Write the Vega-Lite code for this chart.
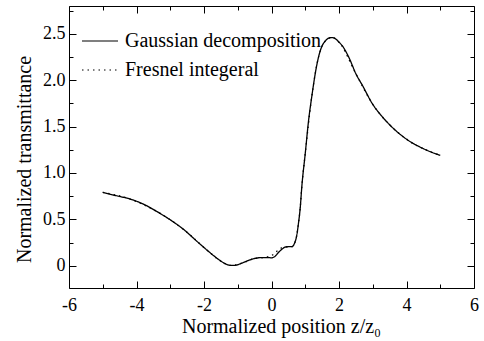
{
  "$schema": "https://vega.github.io/schema/vega-lite/v6.json",
  "width": 405,
  "height": 282,
  "autosize": {"type": "none"},
  "padding": {"left": 69, "top": 6, "right": 10, "bottom": 53},
  "background": "white",
  "config": {
    "view": {"stroke": "black", "strokeWidth": 1},
    "font": "Liberation Serif, Times New Roman, serif",
    "style": {
      "guide-label": {"font": "Liberation Serif, Times New Roman, serif", "fontSize": 18, "fill": "black"},
      "guide-title": {"font": "Liberation Serif, Times New Roman, serif", "fontSize": 20, "fill": "black", "fontWeight": "normal"}
    },
    "axis": {"grid": false, "domain": false, "tickColor": "black", "tickWidth": 1, "labelFont": "Liberation Serif, Times New Roman, serif", "titleFont": "Liberation Serif, Times New Roman, serif", "labelColor": "black", "titleColor": "black", "labelFontSize": 18, "titleFontSize": 20, "titleFontWeight": "normal"},
    "legend": {"labelFont": "Liberation Serif, Times New Roman, serif", "labelFontSize": 20, "labelColor": "black", "labelLimit": 0}
  },
  "data": {"values": [
    {"z": -5.0, "T": 0.79, "s": "Gaussian decomposition"},
    {"z": -4.6, "T": 0.755, "s": "Gaussian decomposition"},
    {"z": -4.2, "T": 0.72, "s": "Gaussian decomposition"},
    {"z": -3.8, "T": 0.665, "s": "Gaussian decomposition"},
    {"z": -3.4, "T": 0.585, "s": "Gaussian decomposition"},
    {"z": -3.0, "T": 0.495, "s": "Gaussian decomposition"},
    {"z": -2.6, "T": 0.39, "s": "Gaussian decomposition"},
    {"z": -2.2, "T": 0.26, "s": "Gaussian decomposition"},
    {"z": -1.9, "T": 0.165, "s": "Gaussian decomposition"},
    {"z": -1.7, "T": 0.105, "s": "Gaussian decomposition"},
    {"z": -1.5, "T": 0.05, "s": "Gaussian decomposition"},
    {"z": -1.35, "T": 0.018, "s": "Gaussian decomposition"},
    {"z": -1.2, "T": 0.003, "s": "Gaussian decomposition"},
    {"z": -1.05, "T": 0.006, "s": "Gaussian decomposition"},
    {"z": -0.9, "T": 0.025, "s": "Gaussian decomposition"},
    {"z": -0.7, "T": 0.055, "s": "Gaussian decomposition"},
    {"z": -0.5, "T": 0.078, "s": "Gaussian decomposition"},
    {"z": -0.3, "T": 0.088, "s": "Gaussian decomposition"},
    {"z": -0.1, "T": 0.088, "s": "Gaussian decomposition"},
    {"z": 0.0, "T": 0.085, "s": "Gaussian decomposition"},
    {"z": 0.1, "T": 0.1, "s": "Gaussian decomposition"},
    {"z": 0.2, "T": 0.14, "s": "Gaussian decomposition"},
    {"z": 0.3, "T": 0.175, "s": "Gaussian decomposition"},
    {"z": 0.4, "T": 0.2, "s": "Gaussian decomposition"},
    {"z": 0.5, "T": 0.205, "s": "Gaussian decomposition"},
    {"z": 0.6, "T": 0.205, "s": "Gaussian decomposition"},
    {"z": 0.68, "T": 0.24, "s": "Gaussian decomposition"},
    {"z": 0.75, "T": 0.33, "s": "Gaussian decomposition"},
    {"z": 0.8, "T": 0.46, "s": "Gaussian decomposition"},
    {"z": 0.85, "T": 0.62, "s": "Gaussian decomposition"},
    {"z": 0.9, "T": 0.86, "s": "Gaussian decomposition"},
    {"z": 1.0, "T": 1.21, "s": "Gaussian decomposition"},
    {"z": 1.1, "T": 1.57, "s": "Gaussian decomposition"},
    {"z": 1.2, "T": 1.84, "s": "Gaussian decomposition"},
    {"z": 1.3, "T": 2.08, "s": "Gaussian decomposition"},
    {"z": 1.4, "T": 2.26, "s": "Gaussian decomposition"},
    {"z": 1.5, "T": 2.37, "s": "Gaussian decomposition"},
    {"z": 1.6, "T": 2.425, "s": "Gaussian decomposition"},
    {"z": 1.7, "T": 2.455, "s": "Gaussian decomposition"},
    {"z": 1.8, "T": 2.46, "s": "Gaussian decomposition"},
    {"z": 1.9, "T": 2.445, "s": "Gaussian decomposition"},
    {"z": 2.0, "T": 2.41, "s": "Gaussian decomposition"},
    {"z": 2.1, "T": 2.37, "s": "Gaussian decomposition"},
    {"z": 2.3, "T": 2.24, "s": "Gaussian decomposition"},
    {"z": 2.5, "T": 2.07, "s": "Gaussian decomposition"},
    {"z": 2.7, "T": 1.94, "s": "Gaussian decomposition"},
    {"z": 3.0, "T": 1.74, "s": "Gaussian decomposition"},
    {"z": 3.25, "T": 1.62, "s": "Gaussian decomposition"},
    {"z": 3.5, "T": 1.52, "s": "Gaussian decomposition"},
    {"z": 3.8, "T": 1.42, "s": "Gaussian decomposition"},
    {"z": 4.1, "T": 1.34, "s": "Gaussian decomposition"},
    {"z": 4.4, "T": 1.28, "s": "Gaussian decomposition"},
    {"z": 4.7, "T": 1.23, "s": "Gaussian decomposition"},
    {"z": 5.0, "T": 1.19, "s": "Gaussian decomposition"},
    {"z": -5.0, "T": 0.79, "s": "Fresnel integeral"},
    {"z": -4.2, "T": 0.72, "s": "Fresnel integeral"},
    {"z": -3.4, "T": 0.585, "s": "Fresnel integeral"},
    {"z": -2.6, "T": 0.39, "s": "Fresnel integeral"},
    {"z": -1.9, "T": 0.165, "s": "Fresnel integeral"},
    {"z": -1.5, "T": 0.05, "s": "Fresnel integeral"},
    {"z": -1.2, "T": 0.003, "s": "Fresnel integeral"},
    {"z": -0.9, "T": 0.025, "s": "Fresnel integeral"},
    {"z": -0.5, "T": 0.078, "s": "Fresnel integeral"},
    {"z": -0.2, "T": 0.09, "s": "Fresnel integeral"},
    {"z": 0.0, "T": 0.11, "s": "Fresnel integeral"},
    {"z": 0.1, "T": 0.135, "s": "Fresnel integeral"},
    {"z": 0.2, "T": 0.172, "s": "Fresnel integeral"},
    {"z": 0.3, "T": 0.192, "s": "Fresnel integeral"},
    {"z": 0.4, "T": 0.202, "s": "Fresnel integeral"},
    {"z": 0.5, "T": 0.205, "s": "Fresnel integeral"},
    {"z": 0.6, "T": 0.205, "s": "Fresnel integeral"},
    {"z": 0.68, "T": 0.24, "s": "Fresnel integeral"},
    {"z": 0.75, "T": 0.33, "s": "Fresnel integeral"},
    {"z": 0.8, "T": 0.46, "s": "Fresnel integeral"},
    {"z": 0.85, "T": 0.62, "s": "Fresnel integeral"},
    {"z": 0.9, "T": 0.86, "s": "Fresnel integeral"},
    {"z": 1.0, "T": 1.21, "s": "Fresnel integeral"},
    {"z": 1.2, "T": 1.84, "s": "Fresnel integeral"},
    {"z": 1.4, "T": 2.26, "s": "Fresnel integeral"},
    {"z": 1.6, "T": 2.425, "s": "Fresnel integeral"},
    {"z": 1.8, "T": 2.46, "s": "Fresnel integeral"},
    {"z": 2.0, "T": 2.41, "s": "Fresnel integeral"},
    {"z": 2.5, "T": 2.07, "s": "Fresnel integeral"},
    {"z": 3.0, "T": 1.74, "s": "Fresnel integeral"},
    {"z": 3.5, "T": 1.52, "s": "Fresnel integeral"},
    {"z": 4.1, "T": 1.34, "s": "Fresnel integeral"},
    {"z": 4.7, "T": 1.23, "s": "Fresnel integeral"},
    {"z": 5.0, "T": 1.19, "s": "Fresnel integeral"}
  ]},
  "resolve": {"axis": {"x": "independent", "y": "independent"}},
  "layer": [
    {
      "mark": {"type": "line", "color": "black", "strokeWidth": 1.3, "interpolate": "monotone"},
      "encoding": {
        "x": {"field": "z", "type": "quantitative", "scale": {"domain": [-6, 6], "nice": false, "zero": false},
          "axis": {"orient": "bottom", "values": [-6, -4, -2, 0, 2, 4, 6], "tickSize": -7, "labelPadding": 15, "labelExpr": "datum.value + ''", "labelFlush": false, "labelFont": "Liberation Serif, Times New Roman, serif", "labelFontSize": 18, "titleFont": "Liberation Serif, Times New Roman, serif", "titleFontSize": 20, "title": "Normalized position z/z₀", "titleX": 212, "titleY": 44, "titleAlign": "center", "titleBaseline": "alphabetic"}},
        "y": {"field": "T", "type": "quantitative", "scale": {"domain": [-0.24, 2.8], "nice": false, "zero": false},
          "axis": {"orient": "left", "values": [0, 0.5, 1, 1.5, 2, 2.5], "tickSize": -7, "labelPadding": 11, "labelExpr": "datum.value == 0 ? '0' : format(datum.value, '.1f')", "labelFlush": false, "labelFont": "Liberation Serif, Times New Roman, serif", "labelFontSize": 18, "titleFont": "Liberation Serif, Times New Roman, serif", "titleFontSize": 20, "title": "Normalized transmittance", "titleAngle": -90, "titleX": -39, "titleY": 153, "titleAlign": "center", "titleBaseline": "alphabetic"}},
        "strokeDash": {"field": "s", "type": "nominal",
          "scale": {"domain": ["Gaussian decomposition", "Fresnel integeral"], "range": [[1, 0], [1.5, 4]]},
          "legend": {"orient": "none", "legendX": 12, "legendY": 16, "title": null, "symbolType": "stroke", "symbolSize": 1296, "symbolStrokeColor": "black", "symbolStrokeWidth": 1.2, "labelOffset": 6, "rowPadding": -7, "labelLimit": 0}}
      }
    },
    {
      "mark": {"type": "line", "opacity": 0},
      "encoding": {
        "x": {"field": "z", "type": "quantitative", "axis": {"orient": "bottom", "values": [-5, -3, -1, 1, 3, 5], "tickSize": -4, "labels": false, "title": null}},
        "y": {"field": "T", "type": "quantitative", "axis": {"orient": "left", "values": [0.25, 0.75, 1.25, 1.75, 2.25, 2.75], "tickSize": -4, "labels": false, "title": null}}
      }
    },
    {
      "mark": {"type": "line", "opacity": 0},
      "encoding": {
        "x": {"field": "z", "type": "quantitative", "axis": {"orient": "top", "values": [-6, -4, -2, 0, 2, 4, 6], "tickSize": -7, "labels": false, "title": null}},
        "y": {"field": "T", "type": "quantitative", "axis": {"orient": "right", "values": [0, 0.5, 1, 1.5, 2, 2.5], "tickSize": -7, "labels": false, "title": null}}
      }
    },
    {
      "mark": {"type": "line", "opacity": 0},
      "encoding": {
        "x": {"field": "z", "type": "quantitative", "axis": {"orient": "top", "values": [-5, -3, -1, 1, 3, 5], "tickSize": -4, "labels": false, "title": null}},
        "y": {"field": "T", "type": "quantitative", "axis": {"orient": "right", "values": [0.25, 0.75, 1.25, 1.75, 2.25, 2.75], "tickSize": -4, "labels": false, "title": null}}
      }
    }
  ]
}
